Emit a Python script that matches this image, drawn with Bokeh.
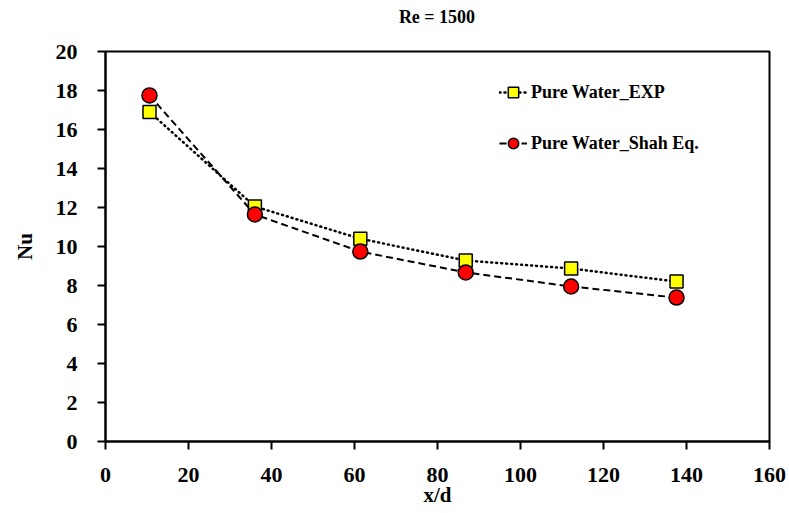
from bokeh.plotting import figure
from bokeh.layouts import column
from bokeh.models import Range1d, FixedTicker, Legend, LegendItem, Div
from bokeh.embed import file_html
from bokeh.resources import INLINE

# Axial position (x/d) and Nusselt number at Re = 1500
x_d = [10.6, 36.0, 61.4, 86.8, 112.2, 137.6]
nu_exp = [16.9, 12.05, 10.4, 9.28, 8.87, 8.2]
nu_shah = [17.75, 11.64, 9.74, 8.67, 7.95, 7.38]

x_ticks = [0, 20, 40, 60, 80, 100, 120, 140, 160]
y_ticks = [0, 2, 4, 6, 8, 10, 12, 14, 16, 18, 20]

FONT = "Liberation Serif"

# heading row, centred over the plotting frame
title = Div(text="Re = 1500", width=664, height=34, margin=(0, 0, 0, 105),
            styles={"font-family": FONT, "font-weight": "bold",
                    "font-size": "18px", "color": "black",
                    "text-align": "center", "line-height": "34px",
                    "width": "664px"})

p = figure(width=789, height=479, output_backend="svg", toolbar_location=None,
           x_range=Range1d(0, 160), y_range=Range1d(0, 20),
           min_border_left=105, min_border_right=20,
           min_border_top=17, min_border_bottom=72)

p.xgrid.visible = False
p.ygrid.visible = False
p.outline_line_color = "black"
p.outline_line_width = 2
p.outline_line_alpha = 1

for ax, ticks in ((p.xaxis[0], x_ticks), (p.yaxis[0], y_ticks)):
    ax.ticker = FixedTicker(ticks=ticks)
    ax.minor_tick_line_color = None
    ax.major_tick_in = 0
    ax.major_tick_out = 8
    ax.major_tick_line_width = 2
    ax.major_tick_line_color = "black"
    ax.axis_line_width = 2
    ax.axis_line_color = "black"
    ax.major_label_text_font = FONT
    ax.major_label_text_font_style = "bold"
    ax.major_label_text_font_size = "22px"
    ax.major_label_text_color = "black"
    ax.axis_label_text_font = FONT
    ax.axis_label_text_font_style = "bold"
    ax.axis_label_text_font_size = "21px"
    ax.axis_label_text_color = "black"

p.xaxis.axis_label = "x/d"
p.yaxis.axis_label = "Nu"
p.xaxis.major_label_standoff = 18
p.yaxis.major_label_standoff = 20
p.xaxis.axis_label_standoff = -2
p.yaxis.axis_label_standoff = 16

l_exp = p.line(x_d, nu_exp, line_color="black", line_width=2.5, line_dash="1 4",
               line_cap="round")
m_exp = p.scatter(x_d, nu_exp, marker="square", size=13, fill_color="#FFFF00",
                  line_color="black", line_width=1.5)
l_shah = p.line(x_d, nu_shah, line_color="black", line_width=2, line_dash="7 4")
m_shah = p.scatter(x_d, nu_shah, marker="circle", size=15, fill_color="#FF0000",
                   line_color="black", line_width=1.5)

legend = Legend(items=[
    LegendItem(label="Pure Water_EXP", renderers=[l_exp, m_exp]),
    LegendItem(label="Pure Water_Shah Eq.", renderers=[l_shah, m_shah]),
], location=(394, 285))
legend.glyph_width = 28
legend.glyph_height = 26
legend.label_height = 26
legend.spacing = 25
legend.padding = 0
legend.margin = 0
legend.label_standoff = 4
legend.border_line_color = None
legend.background_fill_alpha = 0
legend.label_text_font = FONT
legend.label_text_font_style = "bold"
legend.label_text_font_size = "18px"
legend.label_text_color = "black"
p.add_layout(legend)

layout = column(title, p, spacing=0)
open("out.html", "w").write(file_html(layout, INLINE))
